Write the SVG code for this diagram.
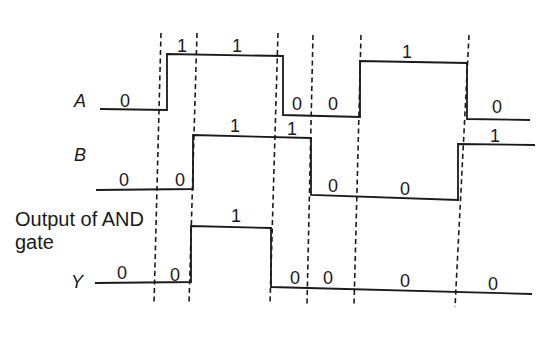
<svg xmlns="http://www.w3.org/2000/svg" width="547" height="351" viewBox="0 0 547 351">
<style>
.sig{fill:none;stroke:#1a1a1a;stroke-width:1.8;stroke-linejoin:miter}
.dash{fill:none;stroke:#1a1a1a;stroke-width:1.6;stroke-dasharray:5 3.5}
.v{font-family:"Liberation Sans",Arial,sans-serif;font-size:18px;fill:#1a1a1a;text-anchor:middle}
.n{font-family:"Liberation Sans",Arial,sans-serif;font-size:18px;font-style:italic;fill:#1a1a1a;text-anchor:middle}
.t{font-family:"Liberation Sans",Arial,sans-serif;font-size:20px;fill:#1a1a1a}
</style>
<rect width="547" height="351" fill="#ffffff"/>
<g id="guides">
<line class="dash" x1="161" y1="33" x2="154" y2="304"/>
<line class="dash" x1="197" y1="33" x2="189" y2="304"/>
<line class="dash" x1="278" y1="33" x2="270" y2="304"/>
<line class="dash" x1="313" y1="35" x2="307" y2="304"/>
<line class="dash" x1="361" y1="35" x2="354" y2="306"/>
<line class="dash" x1="469" y1="35" x2="455" y2="307"/>
</g>
<g id="signal-A">
<path class="sig" d="M100,109 L167,110 L167,54 L283,56 L283,115 L360,117 L360,61 L467,63 L467,119 L530,120"/>
<text class="n" x="80" y="107">A</text>
<text class="v" x="125" y="107">0</text>
<text class="v" x="182" y="52">1</text>
<text class="v" x="237" y="52">1</text>
<text class="v" x="297" y="110">0</text>
<text class="v" x="333" y="110">0</text>
<text class="v" x="407" y="58">1</text>
<text class="v" x="497" y="113">0</text>
</g>
<g id="signal-B">
<path class="sig" d="M96,190 L193,189 L193,135 L311,138 L311,195 L458,200 L458,144 L535,145"/>
<text class="n" x="80" y="161">B</text>
<text class="v" x="124" y="186">0</text>
<text class="v" x="180" y="186">0</text>
<text class="v" x="235" y="132">1</text>
<text class="v" x="292" y="135">1</text>
<text class="v" x="333" y="192">0</text>
<text class="v" x="405" y="195">0</text>
<text class="v" x="495" y="142">1</text>
</g>
<g id="signal-Y">
<text class="t" x="15" y="226">Output of AND</text>
<text class="t" x="15" y="249">gate</text>
<path class="sig" d="M95,283 L191,282 L191,226 L271,228 L271,287 L532,294"/>
<text class="n" x="77" y="288">Y</text>
<text class="v" x="122" y="279">0</text>
<text class="v" x="175" y="281">0</text>
<text class="v" x="236" y="222">1</text>
<text class="v" x="295" y="284">0</text>
<text class="v" x="328" y="284">0</text>
<text class="v" x="405" y="287">0</text>
<text class="v" x="493" y="290">0</text>
</g>
</svg>
